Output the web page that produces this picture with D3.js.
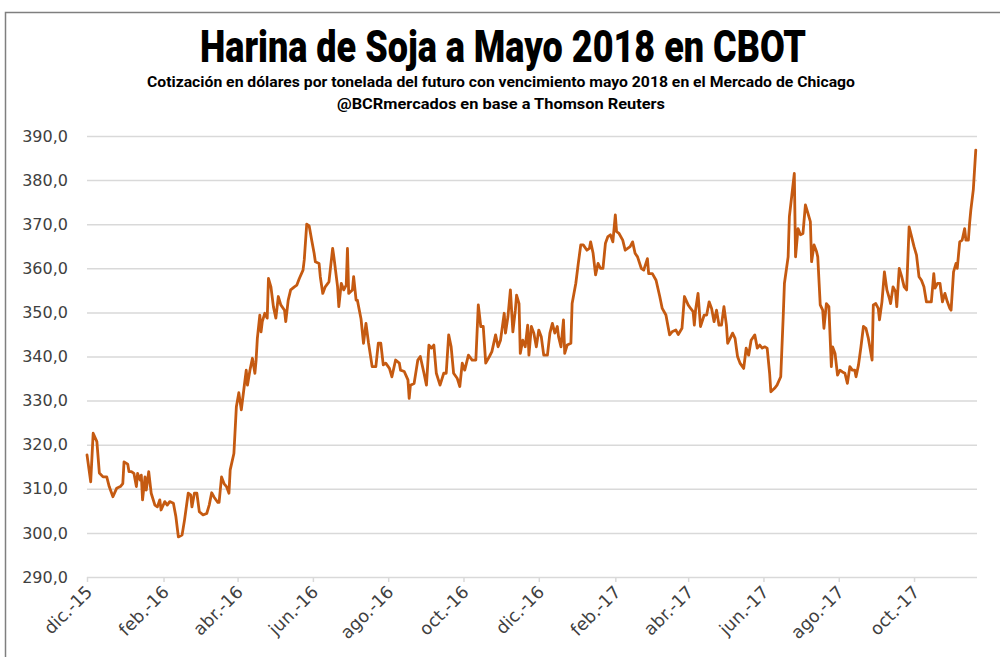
<!DOCTYPE html>
<html><head><meta charset="utf-8">
<script src="https://cdn.jsdelivr.net/npm/d3@7"></script>
<style>body{margin:0;background:#fff}svg{display:block}</style>
</head><body>
<svg id="chart" width="1000" height="657"></svg>
<script>
const titleText = "Harina de Soja a Mayo 2018 en CBOT";
const subtitle1 = "Cotización en dólares por tonelada del futuro con vencimiento mayo 2018 en el Mercado de Chicago";
const subtitle2 = "@BCRmercados en base a Thomson Reuters";

const startDate = "2015-12-01";
const endDay = 721;
// days since 1 Dec 2015
const dayOffsets = [0,3,5,8,10,13,16,18,21,24,
27,29,30,33,34,36,38,40,41,43,
44,45,47,48,50,52,55,57,59,60,
63,65,67,70,72,74,77,79,82,84,
85,87,89,91,94,97,99,101,103,106,
107,109,111,113,115,116,119,121,123,125,
127,129,130,132,134,136,137,138,140,141,
142,144,146,147,149,151,153,155,157,160,
161,163,165,168,170,172,175,176,178,180,
182,184,185,188,189,191,193,196,199,200,
203,204,206,208,210,211,212,215,216,218,
219,222,224,226,228,231,234,236,238,240,
242,245,247,250,253,254,257,260,261,262,
265,268,270,273,275,277,279,281,283,286,
289,291,293,295,297,300,302,304,306,309,
312,315,317,319,321,323,326,328,331,333,
335,338,339,341,343,345,347,348,350,351,
353,355,357,358,360,362,364,366,368,370,
373,375,377,379,381,382,384,386,387,389,
392,393,396,398,400,402,405,407,408,410,
412,414,416,418,420,422,424,426,428,429,
431,434,436,438,440,442,444,446,449,451,
454,455,458,461,464,466,469,472,474,477,
479,482,484,487,489,491,492,493,495,497,
500,502,504,506,508,510,512,514,516,518,
519,521,523,525,527,529,532,534,536,538,
541,543,545,547,549,551,553,554,557,559,
562,564,565,568,569,571,573,574,576,578,
580,582,584,586,587,589,591,592,594,596,
597,599,601,603,604,606,608,610,612,614,
616,618,620,622,623,625,627,629,631,633,
636,637,639,641,642,644,646,648,650,651,
653,655,656,658,660,662,664,666,668,670,
672,674,676,678,680,682,684,686,687,689,
691,693,695,697,699,700,702,704,705,707,
709,711,712,714,715,716,718,720];

const prices = [317.7,311.6,322.6,320.7,313.6,312.7,312.7,310.5,308.2,310.1,
310.5,311.2,316.1,315.6,313.9,313.9,313.5,310.5,313.5,312.0,
313.1,307.5,312.7,309.7,313.9,309.0,306.3,305.9,307.5,305.2,
307.1,306.3,307.1,306.7,303.7,299.1,299.5,302.9,309.0,308.6,
305.9,309.0,309.0,304.8,304.1,304.4,306.3,309.1,308.1,306.9,
306.9,312.7,311.2,310.5,309.0,314.3,318.0,328.6,331.8,327.9,
332.4,336.9,333.5,336.9,339.6,336.2,339.2,344.1,349.4,345.6,
347.9,349.8,348.7,357.7,355.8,351.3,348.7,353.6,351.7,350.5,
347.9,352.8,355.1,355.8,356.2,357.7,359.6,361.9,370.0,369.6,
366.4,363.4,361.5,361.1,358.1,354.3,355.8,356.9,364.5,362.6,
355.8,351.3,356.6,355.1,356.2,364.5,354.3,355.1,358.1,352.8,
352.8,348.5,343.0,347.5,343.2,337.7,337.7,343.0,343.0,338.1,
338.5,337.3,335.4,339.2,338.5,336.9,336.6,334.7,330.5,333.5,
333.9,339.2,340.0,336.2,333.5,342.6,341.9,342.6,336.2,333.5,
336.2,336.2,344.9,342.2,336.2,335.0,333.2,338.5,336.9,340.3,
339.2,339.2,351.7,346.8,346.8,338.5,340.0,341.1,344.9,342.2,
343.7,349.8,345.3,349.0,355.1,345.6,350.5,353.9,352.0,340.7,
343.7,342.2,347.1,340.3,346.8,345.3,342.2,346.0,344.5,340.3,
340.3,345.3,347.5,345.3,346.8,344.5,342.2,348.3,340.7,342.6,
343.0,352.0,356.6,361.1,365.3,365.3,364.1,364.5,366.0,363.4,
358.5,361.1,360.0,360.0,365.7,367.2,367.6,366.0,372.1,368.3,
367.9,366.4,364.1,364.5,364.9,366.0,363.4,362.6,360.0,359.6,
362.2,358.8,358.8,357.3,353.6,350.9,349.4,344.9,345.6,346.0,
345.0,346.4,353.6,351.7,350.9,350.2,347.1,350.5,354.3,346.8,
349.4,349.4,352.4,350.9,347.9,350.5,347.1,347.1,351.3,347.1,
343.0,344.1,345.3,344.1,340.0,338.5,337.3,341.9,340.3,343.7,
344.9,341.9,342.6,341.9,342.2,341.9,336.2,332.0,332.8,333.5,
335.4,349.0,356.6,362.6,371.7,376.6,381.5,362.6,369.0,367.6,
367.9,374.4,372.5,370.6,361.5,365.3,363.8,362.6,351.7,350.5,
346.4,352.0,351.3,337.7,342.2,340.7,335.8,336.9,336.5,336.2,
333.9,337.7,336.9,336.9,335.4,338.1,342.2,346.8,346.4,344.1,
339.2,351.7,352.0,350.9,348.3,352.4,359.2,355.1,353.2,352.0,
355.8,354.7,351.3,360.0,358.1,355.8,355.1,369.4,367.2,364.9,
363.0,358.1,357.3,355.8,352.4,352.4,352.4,358.8,355.5,356.6,
356.6,352.4,354.3,352.4,350.9,350.5,359.2,361.1,360.0,366.0,
366.4,369.0,366.4,366.4,370.2,373.2,377.8,386.8];

const tickDates = ["2015-12-01","2016-02-01","2016-04-01","2016-06-01","2016-08-01","2016-10-01",
                   "2016-12-01","2017-02-01","2017-04-01","2017-06-01","2017-08-01","2017-10-01"];
const tickLabels = ["dic.-15","feb.-16","abr.-16","jun.-16","ago.-16","oct.-16",
                    "dic.-16","feb.-17","abr.-17","jun.-17","ago.-17","oct.-17"];
const yTicks = [290,300,310,320,330,340,350,360,370,380,390];

(function () {
const svg = d3.select("#chart");
const parse = d3.utcParse("%Y-%m-%d");
const start = parse(startDate);
const n = Math.min(dayOffsets.length, prices.length);
const data = d3.range(n).map(i => ({date: d3.utcDay.offset(start, dayOffsets[i]), v: prices[i]}));

const pL = 87, pR = 977, pT = 136, pB = 577;
const x = d3.scaleUtc().domain([start, d3.utcDay.offset(start, endDay)]).range([pL, pR]);
const y = d3.scaleLinear().domain([290, 390]).range([pB, pT]);

// outer frame
svg.append("path").attr("d", "M5.5,1000 L5.5,12.5 L1000,12.5")
  .attr("fill", "none").attr("stroke", "#7f7f7f").attr("stroke-width", 1.5);

const axisFont = "'DejaVu Sans', sans-serif";
const fmt = d => d.toFixed(1).replace(".", ",");

// y gridlines & labels
const gy = svg.append("g").attr("transform", `translate(${pL},0)`)
  .call(d3.axisLeft(y).tickValues(yTicks).tickSize(-(pR - pL)).tickPadding(19).tickFormat(fmt));
gy.select(".domain").remove();
gy.selectAll(".tick line").attr("stroke", "#d9d9d9").attr("stroke-width", 1.5);
gy.selectAll(".tick text").attr("fill", "#404040").style("font-family", axisFont).style("font-size", "16px");

// x axis
const gx = svg.append("g").attr("transform", `translate(0,${pB})`)
  .call(d3.axisBottom(x).tickValues(tickDates.map(parse)).tickSize(5).tickFormat((d, i) => tickLabels[i]));
gx.select(".domain").remove();
gx.selectAll(".tick line").attr("stroke", "#d9d9d9").attr("stroke-width", 1.5);
gx.selectAll(".tick text")
  .attr("y", null).attr("dy", null)
  .attr("text-anchor", "end")
  .attr("transform", "translate(6,16) rotate(-45)")
  .attr("fill", "#404040").style("font-family", axisFont).style("font-size", "17.5px");

// line
svg.append("path").datum(data)
  .attr("fill", "none").attr("stroke", "#c55a11").attr("stroke-width", 2.8)
  .attr("stroke-linejoin", "round").attr("stroke-linecap", "round")
  .attr("d", d3.line().x(d => x(d.date)).y(d => y(d.v)));

// titles
const tf = "Roboto, 'Liberation Sans', sans-serif";
svg.append("text").attr("x", 503).attr("y", 62).attr("text-anchor", "middle")
  .attr("textLength", 606).attr("lengthAdjust", "spacingAndGlyphs")
  .style("font-family", tf).style("font-weight", "900").style("font-size", "45px").attr("fill", "#000")
  .text(titleText);
svg.append("text").attr("x", 501).attr("y", 87).attr("text-anchor", "middle")
  .attr("textLength", 708).attr("lengthAdjust", "spacingAndGlyphs")
  .style("font-family", tf).style("font-weight", "bold").style("font-size", "15.5px").attr("fill", "#000")
  .text(subtitle1);
svg.append("text").attr("x", 501).attr("y", 109).attr("text-anchor", "middle")
  .attr("textLength", 328).attr("lengthAdjust", "spacingAndGlyphs")
  .style("font-family", tf).style("font-weight", "bold").style("font-size", "15.5px").attr("fill", "#000")
  .text(subtitle2);
})();
</script>
</body></html>
